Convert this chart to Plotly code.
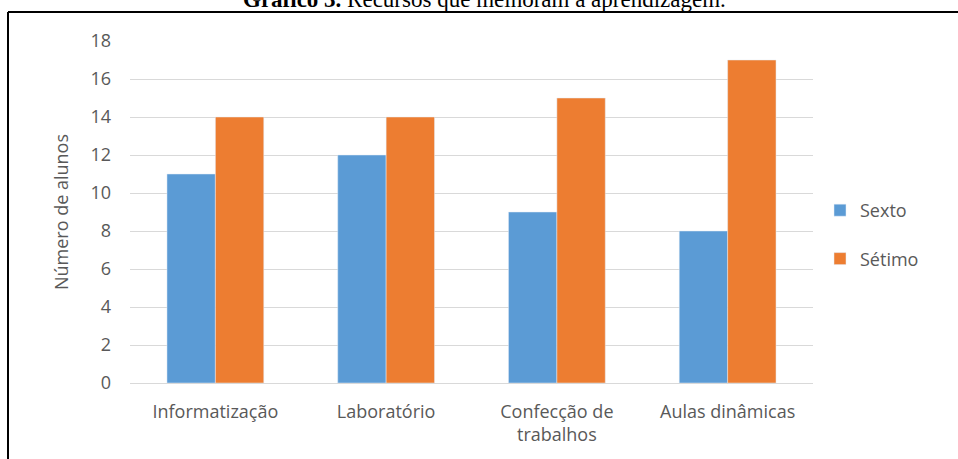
import plotly.graph_objects as go

# Chart data
categorias = ["Informatização", "Laboratório", "Confecção de<br>trabalhos", "Aulas dinâmicas"]
sexto = [11, 12, 9, 8]
setimo = [14, 14, 15, 17]
y_ticks = list(range(0, 19, 2))

AZUL = "#5B9BD5"
LARANJA = "#ED7D31"
CINZA_TEXTO = "#595959"
CINZA_GRADE = "#D9D9D9"
FONTE = "Open Sans"

W, H = 958, 459
ML, MR, MT, MB = 130, 145, 41, 76
PW, PH = W - ML - MR, H - MT - MB


def px_x(px):
    return (px - ML) / PW


def px_y(py):
    return (H - MB - py) / PH


fig = go.Figure()
fig.add_trace(go.Bar(name="Sexto", x=categorias, y=sexto, marker_color=AZUL,
                     legendgroup="a"))
fig.add_trace(go.Bar(name="Sétimo", x=categorias, y=setimo, marker_color=LARANJA,
                     legendgroup="b"))

fig.update_layout(
    width=W, height=H,
    margin=dict(l=ML, r=MR, t=MT, b=MB, autoexpand=False),
    paper_bgcolor="white", plot_bgcolor="white",
    barmode="group", bargap=0.433, bargroupgap=0,
    font=dict(family=FONTE, size=18, color=CINZA_TEXTO),
    showlegend=True,
    legend=dict(x=px_x(820), xanchor="left", y=px_y(234.5), yanchor="middle",
                tracegroupgap=22, font=dict(size=18, color=CINZA_TEXTO),
                bgcolor="rgba(0,0,0,0)"),
    xaxis=dict(showgrid=False, showline=False, zeroline=False,
               ticks="", ticklabelstandoff=16, automargin=False,
               tickfont=dict(size=18, color=CINZA_TEXTO)),
    yaxis=dict(range=[0, 18], tickvals=y_ticks, showgrid=True,
               gridcolor=CINZA_GRADE, gridwidth=1, zeroline=True,
               zerolinecolor=CINZA_GRADE, zerolinewidth=1, showline=False,
               ticks="", ticklabelstandoff=18, automargin=False,
               tickfont=dict(size=18, color=CINZA_TEXTO),
               title=dict(text="Número de alunos", standoff=17,
                          font=dict(size=18, color=CINZA_TEXTO))),
)

# Caption above the frame
fig.add_annotation(
    text="<b>Gráfico 3.</b> Recursos que melhoram a aprendizagem.",
    xref="paper", yref="paper", x=px_x(484), y=px_y(0), xanchor="center",
    yanchor="middle", showarrow=False,
    font=dict(family="Liberation Serif", size=23, color="black"),
)

# Frame lines (top and left)
fig.add_shape(type="line", xref="paper", yref="paper",
              x0=px_x(8), x1=px_x(W + 20), y0=px_y(12), y1=px_y(12),
              line=dict(color="black", width=2))
fig.add_shape(type="line", xref="paper", yref="paper",
              x0=px_x(8), x1=px_x(8), y0=px_y(12), y1=px_y(H + 20),
              line=dict(color="black", width=2))

fig.write_html("out.html")
